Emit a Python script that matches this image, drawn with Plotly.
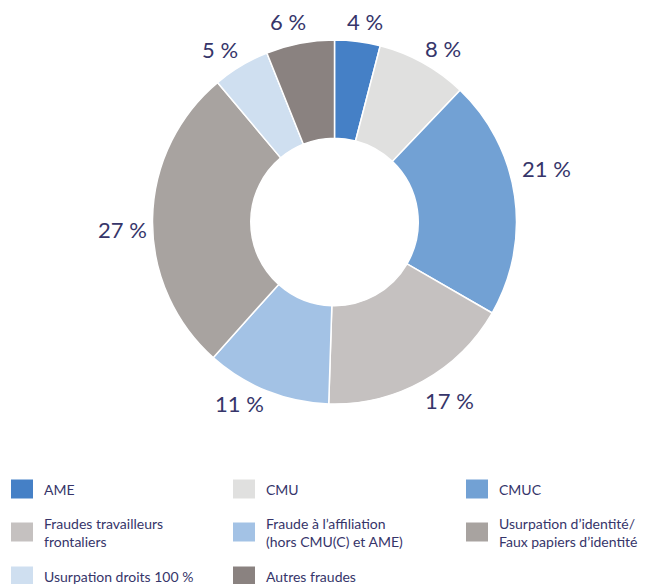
import plotly.graph_objects as go

# Data (clockwise from 12 o'clock)
categories = [
    "AME",
    "CMU",
    "CMUC",
    "Fraudes travailleurs<br>frontaliers",
    "Fraude à l’affiliation<br>(hors CMU(C) et AME)",
    "Usurpation d’identité/<br>Faux papiers d’identité",
    "Usurpation droits 100 %",
    "Autres fraudes",
]
values = [4, 8, 21, 17, 11, 27, 5, 6]
colors = ["#4580C6", "#E0E0DF", "#72A1D4", "#C5C1C0",
          "#A3C2E5", "#A8A3A0", "#CFDFF0", "#8A8280"]

# where the percentage labels sit around the ring (page pixels)
label_xy = [(365, 21), (443, 48), (546, 168), (449, 400),
            (239, 403), (122, 229), (220, 50), (288, 22)]

W, H = 657, 584
OFF = 8  # page body margin
TEXT_COLOR = "#36356A"
FONT = "Lato, Open Sans, sans-serif"


def px(x):
    return (x - OFF) / W


def py(y):
    return 1 - (y - OFF) / H


fig = go.Figure()

fig.add_trace(go.Pie(
    labels=categories,
    values=values,
    textinfo="none",
    marker=dict(colors=colors, line=dict(color="white", width=1.5)),
    hole=0.46,
    sort=False,
    direction="clockwise",
    rotation=0,
    showlegend=False,
    hoverinfo="label+percent",
    domain=dict(x=[px(152), px(517)], y=[py(404), py(40)]),
))

annotations = []
for v, (lx, ly) in zip(values, label_xy):
    annotations.append(dict(
        text=f"{v} %", xref="paper", yref="paper",
        x=px(lx), y=py(ly), xanchor="center", yanchor="middle",
        showarrow=False,
        font=dict(size=22, color=TEXT_COLOR, family=FONT),
    ))

# hand-made legend: 3 columns of colored squares with labels
col_x = [11, 233, 466]
row_y = [489, 532, 576]
shapes = []
for i, (name, col) in enumerate(zip(categories, colors)):
    cx = col_x[i % 3]
    cy = row_y[i // 3]
    shapes.append(dict(
        type="rect", xref="paper", yref="paper",
        x0=px(cx), x1=px(cx + 22),
        y0=py(cy + 9.5), y1=py(cy - 9.5),
        fillcolor=col, line=dict(width=0),
    ))
    annotations.append(dict(
        text=name, xref="paper", yref="paper",
        x=px(cx + 31), y=py(cy),
        xanchor="left", yanchor="middle", align="left",
        showarrow=False,
        font=dict(size=14, color=TEXT_COLOR, family=FONT),
    ))

fig.update_layout(
    width=W,
    height=H,
    margin=dict(l=0, r=0, t=0, b=0),
    paper_bgcolor="white",
    plot_bgcolor="white",
    shapes=shapes,
    annotations=annotations,
)

fig.write_html("out.html")
